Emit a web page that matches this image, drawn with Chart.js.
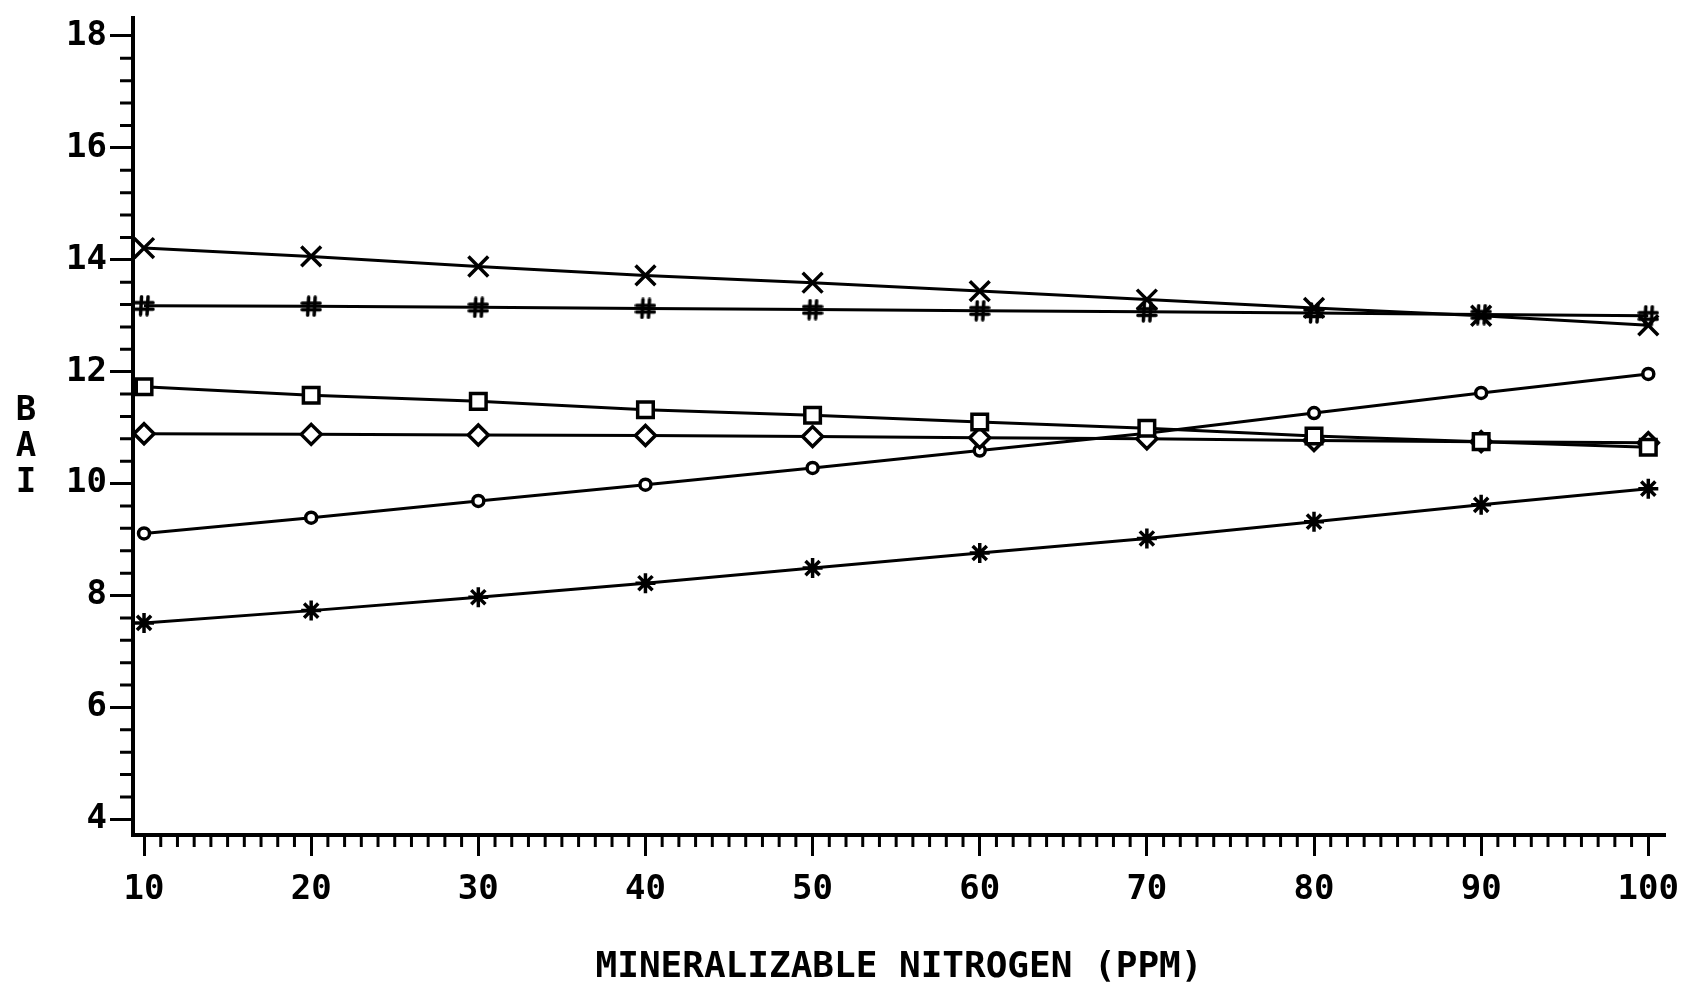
<!DOCTYPE html>
<html>
<head>
<meta charset="utf-8">
<script src="https://cdn.jsdelivr.net/npm/chart.js@4.4.1/dist/chart.umd.min.js"></script>
<style>
  html, body { margin: 0; padding: 0; background: #ffffff; }
  #wrap { width: 1690px; height: 982px; }
</style>
</head>
<body>
<div id="wrap"><canvas id="c" width="1690" height="982"></canvas></div>
<script>
// ---- data ----
const nitrogen      = [10, 20, 30, 40, 50, 60, 70, 80, 90, 100];
const seriesCross   = [14.21, 14.06, 13.88, 13.72, 13.59, 13.44, 13.29, 13.14, 13.00, 12.83];
const seriesHash    = [13.18, 13.17, 13.15, 13.13, 13.11, 13.09, 13.07, 13.05, 13.02, 13.00];
const seriesSquare  = [11.73, 11.58, 11.47, 11.32, 11.22, 11.10, 10.99, 10.85, 10.75, 10.65];
const seriesDiamond = [10.89, 10.88, 10.87, 10.86, 10.84, 10.82, 10.80, 10.77, 10.75, 10.73];
const seriesCircle  = [9.11, 9.39, 9.69, 9.98, 10.28, 10.59, 10.90, 11.26, 11.62, 11.96];
const seriesStar    = [7.51, 7.73, 7.97, 8.22, 8.49, 8.76, 9.02, 9.32, 9.62, 9.91];

const xTickValues = [10, 20, 30, 40, 50, 60, 70, 80, 90, 100];
const yTickValues = [4, 6, 8, 10, 12, 14, 16, 18];
const xMinorStep = 1;
const yMinorStep = 0.4;
const xTitle = 'MINERALIZABLE NITROGEN (PPM)';
const yTitleLetters = ['B', 'A', 'I'];

// ---- rendering ----
const FONT = 'DejaVu Sans Mono';

function makeHash() {
  const c = document.createElement('canvas');
  c.width = 22; c.height = 22;
  const g = c.getContext('2d');
  g.strokeStyle = '#000'; g.lineWidth = 3.5; g.lineCap = 'round';
  g.beginPath();
  g.moveTo(8.5, 2); g.lineTo(7.5, 20);
  g.moveTo(15, 2); g.lineTo(14, 20);
  g.moveTo(2, 8); g.lineTo(20, 8);
  g.moveTo(2, 14.5); g.lineTo(20, 14.5);
  g.stroke();
  return c;
}
const hashImg = makeHash();

function pts(arr) { return nitrogen.map((x, i) => ({ x: x, y: arr[i] })); }

function ds(arr, style, radius, fill) {
  return {
    data: pts(arr),
    showLine: true,
    borderColor: '#000',
    borderWidth: 3,
    pointStyle: style,
    pointRadius: radius,
    pointHoverRadius: radius,
    pointBorderColor: '#000',
    pointBackgroundColor: fill || '#fff',
    pointBorderWidth: 3.5,
    tension: 0
  };
}

const minorTicks = {
  id: 'minorTicks',
  afterDraw(chart) {
    const ctx = chart.ctx;
    const xs = chart.scales.x, ys = chart.scales.y;
    ctx.save();
    ctx.strokeStyle = '#000';
    ctx.lineWidth = 3;
    ctx.beginPath();
    const x0 = xTickValues[0], x1 = xTickValues[xTickValues.length - 1];
    const nx = Math.round((x1 - x0) / xMinorStep);
    for (let i = 0; i <= nx; i++) {
      const v = x0 + i * xMinorStep;
      if (xTickValues.some(t => Math.abs(t - v) < 1e-6)) continue;
      const px = xs.getPixelForValue(v);
      ctx.moveTo(px, ys.bottom);
      ctx.lineTo(px, ys.bottom + 12);
    }
    const y0 = yTickValues[0], y1 = yTickValues[yTickValues.length - 1];
    const ny = Math.round((y1 - y0) / yMinorStep);
    for (let i = 0; i <= ny; i++) {
      const v = y0 + i * yMinorStep;
      if (yTickValues.some(t => Math.abs(t - v) < 1e-6)) continue;
      const py = ys.getPixelForValue(v);
      ctx.moveTo(xs.left, py);
      ctx.lineTo(xs.left - 13, py);
    }
    ctx.stroke();
    // vertical stacked y-axis title
    ctx.fillStyle = '#000';
    ctx.font = 'bold 34px "' + FONT + '"';
    ctx.textAlign = 'center';
    ctx.textBaseline = 'middle';
    const base = ys.getPixelForValue(10);
    yTitleLetters.forEach((ch, i) => {
      ctx.fillText(ch, xs.left - 107, base - (yTitleLetters.length - 1 - i) * 36);
    });
    ctx.restore();
  }
};

new Chart(document.getElementById('c'), {
  type: 'scatter',
  data: {
    datasets: [
      ds(seriesCross, 'crossRot', 14),
      ds(seriesHash, hashImg, 11),
      ds(seriesSquare, 'rect', 11),
      ds(seriesDiamond, 'rectRot', 10),
      ds(seriesCircle, 'circle', 5.5),
      ds(seriesStar, 'star', 10)
    ]
  },
  options: {
    responsive: false,
    animation: false,
    devicePixelRatio: 1,
    layout: { padding: { top: 13, right: 25, left: 0, bottom: 0 } },
    plugins: { legend: { display: false }, tooltip: { enabled: false } },
    scales: {
      x: {
        type: 'linear',
        min: 9.34,
        max: 101.0,
        afterBuildTicks: s => { s.ticks = xTickValues.map(v => ({ value: v })); },
        afterFit: s => { s.height = 147; s.paddingLeft = 0; s.paddingRight = 0; },
        grid: { display: true, drawOnChartArea: false, drawTicks: true, tickLength: 21, tickWidth: 3, tickColor: '#000' },
        border: { display: true, color: '#000', width: 4 },
        ticks: {
          color: '#000', padding: 14, maxRotation: 0, autoSkip: false,
          font: { family: FONT, size: 34, weight: 'bold' },
          callback: v => String(v)
        },
        title: {
          display: true, text: xTitle, color: '#000',
          font: { family: FONT, size: 36, weight: 'bold', lineHeight: 0.75 },
          padding: { top: 0, bottom: 0.5 }
        }
      },
      y: {
        type: 'linear',
        min: 3.72,
        max: 18.33,
        afterBuildTicks: s => { s.ticks = yTickValues.map(v => ({ value: v })); },
        afterFit: s => { s.width = 133; s.paddingTop = 0; s.paddingBottom = 0; },
        grid: { display: true, drawOnChartArea: false, drawTicks: true, tickLength: 23, tickWidth: 3, tickColor: '#000' },
        border: { display: true, color: '#000', width: 4 },
        ticks: {
          color: '#000', padding: 3,
          font: { family: FONT, size: 34, weight: 'bold', lineHeight: 0.7 },
          callback: v => String(v)
        }
      }
    }
  },
  plugins: [minorTicks]
});
</script>
</body>
</html>
